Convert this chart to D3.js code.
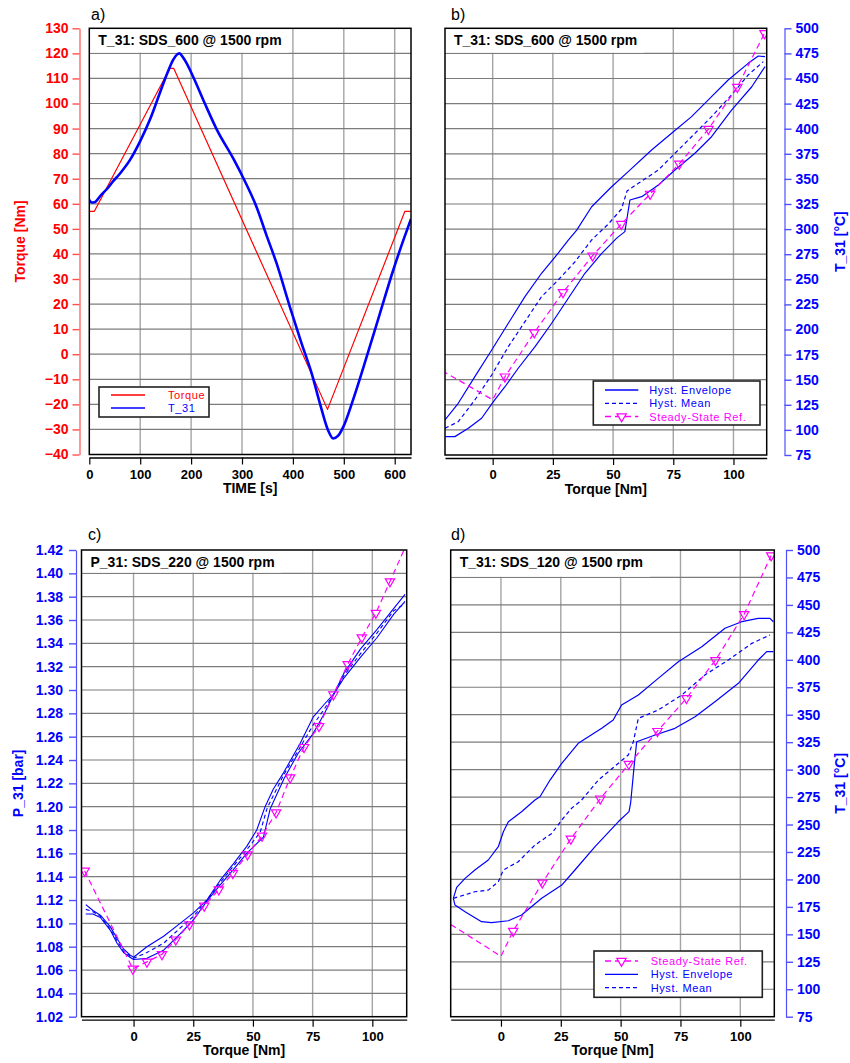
<!DOCTYPE html>
<html>
<head>
<meta charset="utf-8">
<script src="https://cdn.jsdelivr.net/npm/d3@7"></script>
<style>
body { margin: 0; background: #fff; }
svg { font-family: "Liberation Sans", Arial, sans-serif; }
</style>
</head>
<body>
<svg id="chart" width="850" height="1063"></svg>
<script>
// ---- Panel a: time history ----
const timeTicks = [0, 100, 200, 300, 400, 500, 600];
const torqueTicks = [-40, -30, -20, -10, 0, 10, 20, 30, 40, 50, 60, 70, 80, 90, 100, 110, 120, 130];
const torqueTime = [0, 10, 158, 166, 468, 620, 632];
const torqueValues = [57, 57, 114, 114, -22, 57, 57];
// T_31 trace as drawn against the torque scale
const t31Time = [0, 5, 10, 23, 36, 46, 60, 80, 100, 120, 140, 153, 165, 172, 177, 182, 190, 204, 227, 250,
                 283, 302, 328, 348, 368, 394, 417, 437, 453, 469, 479, 489, 499, 518, 545, 571, 597, 617, 632];
const t31Scaled = [61.5, 60.5, 60.6, 63.5, 66.2, 68.8, 72, 77.5, 85, 94, 105, 112, 117.5, 119.5, 120, 119, 116.5, 110.7, 100, 89.8,
                   78, 70.5, 59, 47.5, 36.2, 18.9, 4.3, -7.7, -19.6, -30.3, -33.6, -32.5, -29, -18.3, -1, 16.3, 33.5, 45.5, 54];

// ---- Shared ticks for torque sweeps ----
const sweepTicks = [0, 25, 50, 75, 100];
const tempTicks = [75, 100, 125, 150, 175, 200, 225, 250, 275, 300, 325, 350, 375, 400, 425, 450, 475, 500];
const pressureTicks = [1.02, 1.04, 1.06, 1.08, 1.10, 1.12, 1.14, 1.16, 1.18, 1.20, 1.22, 1.24, 1.26, 1.28, 1.30,
                       1.32, 1.34, 1.36, 1.38, 1.40, 1.42];

// Steady-state reference for T_31 (panels b and d)
const refTorque = [-21, 0, 5.1, 17.3, 29.2, 41.5, 53.4, 65.4, 77.5, 89.6, 101.6, 112.9];
const refT31 = [159, 130, 153, 197, 237, 273.5, 305, 335, 365, 399.6, 441.5, 495];

// ---- Panel b: SDS_600 ----
const bEnvUpper = [[-19.8, 110], [-14.3, 126.5], [-7.4, 153], [-0.4, 179.6], [6.5, 206.2], [13.4, 232.7], [20.3, 256],
  [27.2, 276], [31.4, 289], [34.9, 299], [41.1, 322.3], [49.4, 342.2], [56.3, 357.2], [66, 378.8], [74.3, 395.4],
  [82.6, 412], [90.9, 431.9], [97.8, 448.5], [106.1, 465.1], [110.3, 472.4], [113.1, 471.7]];
const bEnvLower = [[-19.8, 93.3], [-15.7, 93.3], [-10.1, 101.6], [-4.6, 111.6], [0.3, 128.1], [5.1, 143], [10.6, 161.4],
  [17.6, 182.9], [24.5, 206.2], [31.4, 231.1], [38.3, 256], [45.3, 275.9], [51.5, 291], [54.9, 297.5], [57, 329],
  [61.9, 332.3], [68.8, 343.9], [75.7, 358.9], [84, 375.5], [90.9, 392], [99.2, 418.6], [107.6, 441.8], [113.1, 461.8]];
const bMean = [[-19.8, 101.6], [-14.3, 108.2], [-7.4, 129.8], [-0.4, 154.7], [6.5, 182.9], [13.4, 207.8], [20.3, 232.7],
  [27.2, 249.3], [34.2, 267.5], [41.1, 289.2], [48, 305], [53.5, 320], [55.8, 338], [60.5, 345.6], [68.8, 358.9],
  [75.7, 375.5], [82.6, 392], [90.9, 412], [99.2, 433.6], [106.1, 453.5], [112.4, 466.8]];

// ---- Panel c: SDS_220, P_31 ----
const cEnvUpper = [[-20, 1.116], [-17, 1.111], [-13.9, 1.107], [-9.7, 1.097], [-6.9, 1.087], [-4.2, 1.078], [-1.5, 1.073],
  [0, 1.071], [5.6, 1.080], [12.6, 1.089], [19.5, 1.100], [25.1, 1.109], [30.7, 1.120], [36.3, 1.137], [41.8, 1.151],
  [47.4, 1.166], [51.6, 1.180], [55.1, 1.200], [58.5, 1.215], [62.8, 1.229], [69.7, 1.254], [75.3, 1.277], [80, 1.288],
  [84, 1.297], [88, 1.310], [95, 1.328], [102, 1.345], [109, 1.365], [113.7, 1.376]];
const cEnvLower = [[-20, 1.108], [-17, 1.108], [-13.9, 1.105], [-9.7, 1.094], [-6.9, 1.083], [-4.2, 1.075], [-1.5, 1.071],
  [0, 1.069], [5.6, 1.070], [12.6, 1.077], [19.5, 1.091], [25.1, 1.103], [30.7, 1.119], [36.3, 1.133], [41.8, 1.146],
  [47.4, 1.160], [54.4, 1.174], [57.2, 1.198], [63, 1.224], [69, 1.246], [75, 1.262], [80, 1.280], [84, 1.297],
  [88, 1.314], [95, 1.335], [102, 1.352], [109, 1.370], [113.7, 1.382]];
const cMean = [[-20, 1.112], [-17, 1.110], [-13.9, 1.106], [-9.7, 1.095], [-6.9, 1.085], [-4.2, 1.076], [0, 1.070],
  [5.6, 1.075], [12.6, 1.083], [19.5, 1.096], [25.1, 1.106], [30.7, 1.120], [36.3, 1.135], [41.8, 1.149], [47.4, 1.163],
  [53, 1.178], [56, 1.199], [62.8, 1.227], [69.5, 1.250], [75.2, 1.270], [80, 1.284], [84, 1.297], [88, 1.312],
  [95, 1.331], [102, 1.349], [109, 1.368], [113.7, 1.374]];
const cRefTorque = [-20.5, -0.3, 5.6, 11.9, 17.7, 23.4, 29.6, 35.7, 41.6, 47.7, 53.8, 59.7, 65.6, 71.4, 77.7, 83.7,
  89.7, 95.6, 101.5, 107.4, 115];
const cRefP31 = [1.145, 1.061, 1.067, 1.0735, 1.086, 1.099, 1.115, 1.129, 1.143, 1.159, 1.175, 1.195, 1.225, 1.251,
  1.269, 1.296, 1.322, 1.345, 1.366, 1.393, 1.428];

// ---- Panel d: SDS_120 ----
const dEnvUpper = [[-19.9, 182.8], [-18.5, 192.8], [-15, 201], [-10.9, 208.6], [-5.3, 217.7], [-1.1, 229.8], [1, 243.4],
  [3.1, 252.5], [8.6, 261.7], [14.2, 272.3], [16.3, 275.3], [20.5, 290.5], [25.4, 305.7], [32.3, 324], [42.1, 337.6],
  [46.9, 345.2], [50.4, 358.8], [57.4, 367.9], [65.7, 383.1], [74.1, 398.3], [83.9, 411.9], [93.6, 428.7],
  [100.6, 434.7], [107.5, 437.8], [112.4, 437.8], [113.8, 434.7]];
const dEnvLower = [[-19.9, 182.8], [-19.2, 176.7], [-15, 170.6], [-8.1, 161.5], [-3.9, 160.6], [3.1, 162.4],
  [8.6, 167.6], [17, 182.8], [25.4, 194.9], [30.9, 208.6], [39.3, 229.8], [49, 252.5], [53.5, 261.7], [54.2, 270],
  [55.5, 300], [56.7, 325.4], [64.4, 331.5], [72.7, 337.6], [81.1, 348.2], [89.4, 361.8], [99.2, 378.6],
  [107.5, 399.8], [111, 407.4], [113.8, 407.4]];
const dMean = [[-19.9, 182.8], [-10.9, 188.8], [-5.3, 190.3], [-1.1, 197.9], [1, 208.6], [7.2, 216.1], [14.2, 231.3],
  [21.2, 241.9], [25.4, 254.1], [29.5, 264.8], [33.7, 272.3], [40.7, 290.5], [53.2, 313.3], [55.3, 325.4],
  [57.4, 346.7], [65.7, 354.3], [75.5, 367.9], [85.2, 386.2], [95, 399.8], [104.8, 415], [112.4, 422.6]];

const fontFamily = '"Liberation Sans", Arial, sans-serif';
const blue = '#0000ff';
const red = '#ff0000';
const magenta = '#ff00ff';
const svg = d3.select('#chart');

const panels = [
  {id: 'a', left: 89.3, right: 411, top: 28.3, bottom: 454.5, xDomain: [0, 632], yDomain: [-40, 130],
   xTicks: timeTicks, yTicks: torqueTicks, yFormat: d3.format('d'), side: 'left', axisX: 79.5, tickPad: 4,
   color: red, axisColor: '#ff5050', xTitle: 'TIME [s]', yTitle: 'Torque [Nm]', yTitleX: 25,
   title: 'T_31: SDS_600 @ 1500 rpm', letter: 'a)', letterX: 91, letterY: 20},
  {id: 'b', left: 445, right: 766.7, top: 28.3, bottom: 455, xDomain: [-19.8, 113.8], yDomain: [75, 500],
   xTicks: sweepTicks, yTicks: tempTicks, yFormat: d3.format('d'), side: 'right', axisX: 784.5, tickPad: 4,
   color: blue, axisColor: '#5050ff', xTitle: 'Torque [Nm]', yTitle: 'T_31 [°C]', yTitleX: 845,
   title: 'T_31: SDS_600 @ 1500 rpm', letter: 'b)', letterX: 451, letterY: 20},
  {id: 'c', left: 81.5, right: 406.7, top: 550, bottom: 1016.7, xDomain: [-21.8, 114.4], yDomain: [1.02, 1.42],
   xTicks: sweepTicks, yTicks: pressureTicks, yFormat: d3.format('.2f'), side: 'left', axisX: 76, tickPad: 6,
   color: blue, axisColor: '#5050ff', xTitle: 'Torque [Nm]', yTitle: 'P_31 [bar]', yTitleX: 23,
   title: 'P_31: SDS_220 @ 1500 rpm', letter: 'c)', letterX: 88, letterY: 540},
  {id: 'd', left: 450.7, right: 774.3, top: 550, bottom: 1016.7, xDomain: [-21, 114.2], yDomain: [75, 500],
   xTicks: sweepTicks, yTicks: tempTicks, yFormat: d3.format('d'), side: 'right', axisX: 786, tickPad: 4,
   color: blue, axisColor: '#5050ff', xTitle: 'Torque [Nm]', yTitle: 'T_31 [°C]', yTitleX: 845,
   title: 'T_31: SDS_120 @ 1500 rpm', letter: 'd)', letterX: 451, letterY: 540}
];

// Scales for one panel
const makeScales = p => ({
  x: d3.scaleLinear().domain(p.xDomain).range([p.left, p.right]),
  y: d3.scaleLinear().domain(p.yDomain).range([p.bottom, p.top])
});

// Grid lines inside the frame
const drawGrid = (p, s) => {
  const g = svg.append('g').attr('class', 'grid');
  const inY = p.yTicks.filter(v => v > p.yDomain[0] && v < p.yDomain[1]);
  const inX = p.xTicks.filter(v => v > p.xDomain[0] && v < p.xDomain[1]);
  g.selectAll('line.v').data(inX).enter().append('line')
    .attr('x1', d => s.x(d)).attr('x2', d => s.x(d))
    .attr('y1', p.top).attr('y2', p.bottom)
    .attr('stroke', '#a4a4a4').attr('stroke-width', 1.4);
  g.selectAll('line.h').data(inY).enter().append('line')
    .attr('x1', p.left).attr('x2', p.right)
    .attr('y1', d => s.y(d)).attr('y2', d => s.y(d))
    .attr('stroke', '#7c7c7c').attr('stroke-width', 1.2);
};

// White title box in the upper left corner of the frame
const drawTitleBox = (p, s) => {
  const step = p.yTicks[p.yTicks.length - 1] - p.yTicks[p.yTicks.length - 2];
  const boxBottom = s.y(p.yDomain[1] - step) - 0.7;
  const g = svg.append('g');
  const rect = g.append('rect').attr('x', p.left).attr('y', p.top)
    .attr('height', boxBottom - p.top).attr('fill', '#fff');
  const text = g.append('text').attr('x', p.left + 9).attr('y', p.top + 17)
    .attr('font-size', 14).attr('font-weight', 'bold').attr('fill', '#000')
    .text(p.title);
  rect.attr('width', text.node().getComputedTextLength() + 16);
};

const drawFrame = p => {
  svg.append('rect').attr('x', p.left).attr('y', p.top)
    .attr('width', p.right - p.left).attr('height', p.bottom - p.top)
    .attr('fill', 'none').attr('stroke', '#000').attr('stroke-width', 1.5);
};

const drawAxes = (p, s) => {
  const xAxis = svg.append('g')
    .attr('transform', 'translate(0,' + (p.bottom + 3) + ')')
    .call(d3.axisBottom(s.x).tickValues(p.xTicks).tickSize(7).tickSizeOuter(0).tickPadding(5)
      .tickFormat(d3.format('d')))
    .attr('font-family', fontFamily);
  xAxis.select('.domain').attr('stroke', '#000').attr('stroke-width', 1.3);
  xAxis.selectAll('.tick line').attr('stroke', '#000').attr('stroke-width', 1.2);
  xAxis.selectAll('text').attr('font-size', 13).attr('font-weight', 'bold').attr('fill', '#000');

  const axisFn = p.side === 'left' ? d3.axisLeft : d3.axisRight;
  const yAxis = svg.append('g')
    .attr('transform', 'translate(' + p.axisX + ',0)')
    .call(axisFn(s.y).tickValues(p.yTicks).tickSize(7).tickSizeOuter(0).tickPadding(p.tickPad)
      .tickFormat(p.yFormat))
    .attr('font-family', fontFamily);
  yAxis.select('.domain').attr('stroke', p.axisColor).attr('stroke-width', 1.2);
  yAxis.selectAll('.tick line').attr('stroke', p.axisColor).attr('stroke-width', 1.4);
  yAxis.selectAll('text').attr('font-size', 14).attr('font-weight', 'bold').attr('fill', p.color);

  svg.append('text')
    .attr('x', (p.left + p.right) / 2).attr('y', p.bottom + 38.5)
    .attr('text-anchor', 'middle').attr('font-size', 14).attr('font-weight', 'bold')
    .text(p.xTitle);
  svg.append('text')
    .attr('transform', 'translate(' + p.yTitleX + ',' + ((p.top + p.bottom) / 2) + ') rotate(-90)')
    .attr('text-anchor', 'middle').attr('font-size', 14).attr('font-weight', 'bold')
    .attr('fill', p.color)
    .text(p.yTitle);
  svg.append('text').attr('x', p.letterX).attr('y', p.letterY)
    .attr('font-size', 16).text(p.letter);
};

const makeClip = p => {
  svg.append('clipPath').attr('id', 'clip-' + p.id).append('rect')
    .attr('x', p.left).attr('y', p.top)
    .attr('width', p.right - p.left).attr('height', p.bottom - p.top);
  return svg.append('g').attr('clip-path', 'url(#clip-' + p.id + ')');
};

const drawSeries = (g, s, pts, color, width, dash, curve) => {
  const line = d3.line().x(d => s.x(d[0])).y(d => s.y(d[1])).curve(curve || d3.curveLinear);
  g.append('path').datum(pts).attr('d', line)
    .attr('fill', 'none').attr('stroke', color).attr('stroke-width', width)
    .attr('stroke-dasharray', dash || null).attr('stroke-linejoin', 'round');
};

const triangle = d3.symbol().type(d3.symbolTriangle).size(38);

const drawMarkers = (g, s, pts) => {
  g.selectAll(null).data(pts).enter().append('path')
    .attr('d', triangle)
    .attr('transform', d => 'translate(' + s.x(d[0]) + ',' + s.y(d[1]) + ') rotate(180)')
    .attr('fill', 'none').attr('stroke', magenta).attr('stroke-width', 1.2);
};

const drawRef = (g, s, p, xs, ys, markFrom) => {
  const pts = d3.zip(xs, ys);
  drawSeries(g, s, pts, magenta, 1.2, '6,4');
  drawMarkers(g, s, pts.filter((d, i) => i >= markFrom && d[0] >= p.xDomain[0] && d[0] <= p.xDomain[1]));
};

// Legend box with entries drawn row by row
const drawLegend = (x, y, w, h, rows, lineX0, lineX1, textX) => {
  const g = svg.append('g');
  g.append('rect').attr('x', x).attr('y', y).attr('width', w).attr('height', h)
    .attr('fill', '#fff').attr('stroke', '#222').attr('stroke-width', 1.6);
  rows.forEach(r => {
    g.append('line').attr('x1', lineX0).attr('x2', lineX1).attr('y1', r.y).attr('y2', r.y)
      .attr('stroke', r.color).attr('stroke-width', 1.3).attr('stroke-dasharray', r.dash || null);
    if (r.marker) {
      g.append('path').attr('d', triangle)
        .attr('transform', 'translate(' + ((lineX0 + lineX1) / 2) + ',' + r.y + ') rotate(180)')
        .attr('fill', '#fff').attr('stroke', r.color).attr('stroke-width', 1.2);
    }
    g.append('text').attr('x', textX).attr('y', r.y + 4)
      .attr('font-size', 11).attr('letter-spacing', 0.6).attr('fill', r.color)
      .text(r.label);
  });
};

const scales = panels.map(p => makeScales(p));

panels.forEach((p, i) => {
  drawGrid(p, scales[i]);
  drawTitleBox(p, scales[i]);
});

// Panel a
{
  const p = panels[0], s = scales[0];
  const g = makeClip(p);
  drawSeries(g, s, d3.zip(torqueTime, torqueValues), red, 1.2);
  drawSeries(g, s, d3.zip(t31Time, t31Scaled), blue, 2.6, null, d3.curveMonotoneX);
}
// Panel b
{
  const p = panels[1], s = scales[1];
  const g = makeClip(p);
  drawSeries(g, s, bEnvUpper, blue, 1.2);
  drawSeries(g, s, bEnvLower, blue, 1.2);
  drawSeries(g, s, bMean, blue, 1.2, '4,3');
  drawRef(g, s, p, refTorque, refT31, 2);
}
// Panel c
{
  const p = panels[2], s = scales[2];
  const g = makeClip(p);
  drawSeries(g, s, cEnvUpper, blue, 1.1);
  drawSeries(g, s, cEnvLower, blue, 1.1);
  drawSeries(g, s, cMean, blue, 1.1, '4,3');
  drawRef(g, s, p, cRefTorque, cRefP31, 0);
}
// Panel d
{
  const p = panels[3], s = scales[3];
  const g = makeClip(p);
  drawSeries(g, s, dEnvUpper, blue, 1.2);
  drawSeries(g, s, dEnvLower, blue, 1.2);
  drawSeries(g, s, dMean, blue, 1.2, '4,3');
  drawRef(g, s, p, refTorque, refT31, 2);
}

panels.forEach((p, i) => {
  drawFrame(p);
  drawAxes(p, scales[i]);
});

drawLegend(99, 387, 110, 30, [
  {label: 'Torque', color: red, y: 395},
  {label: 'T_31', color: blue, y: 408}
], 111, 145, 168);

drawLegend(593.3, 381, 166.7, 44, [
  {label: 'Hyst. Envelope', color: blue, y: 390},
  {label: 'Hyst. Mean', color: blue, y: 403.3, dash: '4,3'},
  {label: 'Steady-State Ref.', color: magenta, y: 416.5, dash: '6,4', marker: true}
], 605, 638.3, 649.3);

drawLegend(594, 951, 168.3, 46.3, [
  {label: 'Steady-State Ref.', color: magenta, y: 961, dash: '6,4', marker: true},
  {label: 'Hyst. Envelope', color: blue, y: 974.3},
  {label: 'Hyst. Mean', color: blue, y: 987.7, dash: '4,3'}
], 605, 638, 650.7);
</script>
</body>
</html>
